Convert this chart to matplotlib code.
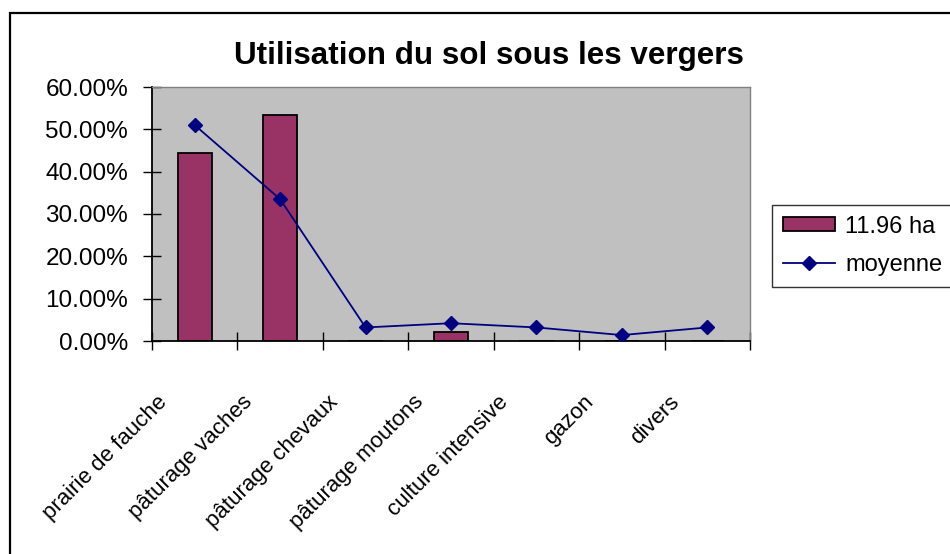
import matplotlib
matplotlib.use("Agg")
import matplotlib.pyplot as plt
import matplotlib.patches as mpatches
import matplotlib.transforms as mtransforms
from matplotlib.ticker import FuncFormatter

plt.rcParams['font.family'] = ['Liberation Sans', 'DejaVu Sans']

# land use categories under the orchards
categories = ["prairie de fauche", "pâturage vaches", "pâturage chevaux",
              "pâturage moutons", "culture intensive", "gazon", "divers"]
surface_share = [0.444, 0.534, 0.0, 0.022, 0.0, 0.0, 0.0]   # 11.96 ha
mean_share = [0.510, 0.335, 0.032, 0.042, 0.032, 0.014, 0.032]  # moyenne
y_ticks = [0.0, 0.1, 0.2, 0.3, 0.4, 0.5, 0.6]

BAR_COLOR = "#993366"
LINE_COLOR = "#000080"
PLOT_BG = "#C0C0C0"

W, H = 950, 554
fig = plt.figure(figsize=(W / 100, H / 100), dpi=100)

# outer chart frame (runs off the right and bottom edges)
frame = mpatches.Rectangle((10 / W, -0.2), 1.2, 1 - 13 / H + 0.2,
                           transform=fig.transFigure, fill=False,
                           edgecolor="black", linewidth=1.6, clip_on=False)
fig.add_artist(frame)

ax = fig.add_axes([152 / W, 1 - 341 / H, (750 - 152) / W, (341 - 87) / H])
ax.set_facecolor(PLOT_BG)

x = list(range(len(categories)))
bars = ax.bar(x, surface_share, width=0.4, color=BAR_COLOR,
              edgecolor="black", linewidth=1.3, label="11.96 ha", zorder=2)
line, = ax.plot(x, mean_share, color=LINE_COLOR, linewidth=1.3,
                marker="D", markersize=7, label="moyenne", zorder=3)

ax.set_xlim(-0.5, len(categories) - 0.5)
ax.set_ylim(0, 0.6)

# y axis
ax.set_yticks(y_ticks)
ax.yaxis.set_major_formatter(FuncFormatter(lambda v, p: f"{v * 100:.2f}%"))
ax.tick_params(axis="y", direction="inout", length=12.5, width=1.0,
               pad=11, labelsize=17.5, colors="black")

# x axis: ticks between categories, labels placed by hand
ax.set_xticks([i - 0.5 for i in range(len(categories) + 1)])
ax.set_xticklabels([])
ax.tick_params(axis="x", direction="inout", length=12.5, width=1.0)

label_trans = mtransforms.offset_copy(ax.get_xaxis_transform(), fig=fig,
                                      x=-31, y=-58, units="dots")
for i, name in enumerate(categories):
    ax.text(i, 0, name, transform=label_trans, rotation=45,
            rotation_mode="anchor", ha="right", va="center", fontsize=16)

for side in ("left", "bottom"):
    ax.spines[side].set_color("black")
    ax.spines[side].set_linewidth(1.3)
for side in ("top", "right"):
    ax.spines[side].set_color("#808080")
    ax.spines[side].set_linewidth(1.0)

fig.text(489 / W, 1 - 64 / H, "Utilisation du sol sous les vergers",
         ha="center", va="baseline", fontsize=22.6, fontweight="bold")

leg = fig.legend(handles=[bars, line], labels=["11.96 ha", "moyenne"],
                 loc="upper left", bbox_to_anchor=(772 / W, 1 - 205 / H),
                 bbox_transform=fig.transFigure, borderaxespad=0,
                 fontsize=17, frameon=True, fancybox=False,
                 handlelength=2.2, handleheight=0.55, handletextpad=0.45,
                 labelspacing=0.7, borderpad=0.45, numpoints=1)
leg.get_frame().set_edgecolor("black")
leg.get_frame().set_linewidth(1.0)

fig.savefig("out.png", dpi=100)
